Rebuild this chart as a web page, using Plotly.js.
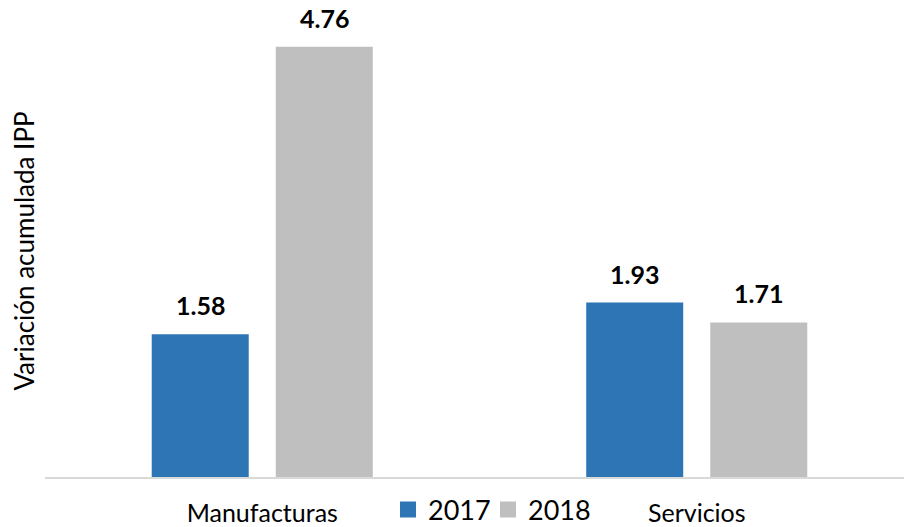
<!DOCTYPE html>
<html>
<head>
<meta charset="utf-8">
<script src="https://cdn.plot.ly/plotly-3.0.1.min.js"></script>
<style>html,body{margin:0;padding:0;background:#fff;}#chart{width:904px;height:527px;}</style>
</head>
<body>
<div id="chart"></div>
<script>
const categories = ["Manufacturas", "Servicios"];
const seriesNames = ["2017", "2018"];
const values2017 = [1.58, 1.93];
const values2018 = [4.76, 1.71];
const colors = ["#2E75B6", "#BFBFBF"];
const FONT = "Lato, 'Noto Sans', sans-serif";

const allSeries = [values2017, values2018];
const legendIds = ["legend", "legend2"];
const traces = allSeries.map((vals, i) => ({
  type: "bar",
  name: seriesNames[i],
  x: categories,
  y: vals,
  marker: {color: colors[i]},
  hoverinfo: "none",
  showlegend: false
}));
// legend entries with larger square swatches
seriesNames.forEach((n, i) => {
  traces.push({
    type: "scatter", mode: "markers", name: n,
    x: [null], y: [null],
    marker: {symbol: "square", size: 16, color: colors[i]},
    showlegend: true, hoverinfo: "none", legend: legendIds[i]
  });
});

const offsets = [-62, 62];
const annotations = [];
allSeries.forEach((vals, i) => {
  vals.forEach((v, j) => {
    annotations.push({
      x: categories[j], y: v, xref: "x", yref: "y",
      text: "<b>" + v.toFixed(2) + "</b>",
      showarrow: false, xshift: offsets[i], yshift: 12,
      yanchor: "bottom",
      font: {family: FONT, size: 25, color: "#000"}
    });
  });
});

const legendBase = {orientation: "h", y: -0.073, yanchor: "middle", xanchor: "left",
  font: {family: FONT, size: 27, color: "#000"}, itemwidth: 30, bgcolor: "rgba(0,0,0,0)"};

const layout = {
  width: 904, height: 527,
  margin: {l: 45, r: 0, t: 24.5, b: 50, autoexpand: false},
  paper_bgcolor: "#fff", plot_bgcolor: "#fff",
  barmode: "group",
  bargap: 0.429,
  bargroupgap: 0.218,
  font: {family: FONT, size: 25, color: "#000"},
  showlegend: true,
  legend: Object.assign({}, legendBase, {x: 0.3993}),
  legend2: Object.assign({}, legendBase, {x: 0.5157}),
  xaxis: {
    range: [-0.5, 1.477], showgrid: false, zeroline: false, fixedrange: true,
    showline: true, linecolor: "#D9D9D9", linewidth: 1.5,
    ticks: "", ticklabelstandoff: 13,
    tickfont: {family: FONT, size: 25, color: "#000"}
  },
  yaxis: {
    range: [0, 5], showgrid: false, zeroline: false, showline: false,
    showticklabels: false, ticks: "", automargin: false,
    title: {text: "Variación acumulada IPP", standoff: 1, font: {family: FONT, size: 26, color: "#000"}}
  },
  annotations: annotations
};

Plotly.newPlot("chart", traces, layout, {displayModeBar: false, staticPlot: true});
</script>
</body>
</html>
